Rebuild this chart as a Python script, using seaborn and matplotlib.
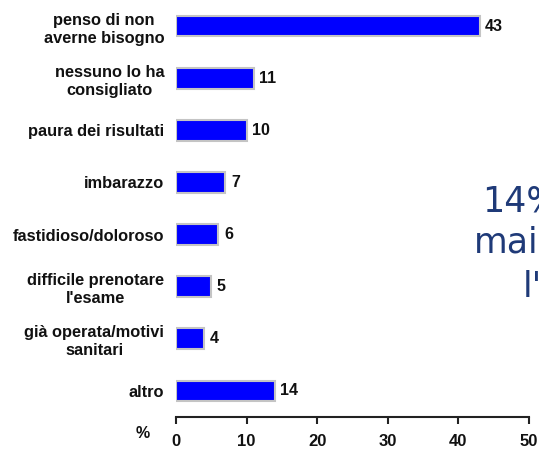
import pandas as pd
import seaborn as sns
import matplotlib.pyplot as plt

# ---------------------------------------------------------------------
# Data
# ---------------------------------------------------------------------
reasons = [
    "penso di non\naverne bisogno",
    "nessuno lo ha\nconsigliato",
    "paura dei risultati",
    "imbarazzo",
    "fastidioso/doloroso",
    "difficile prenotare\nl'esame",
    "già operata/motivi\nsanitari",
    "altro",
]
percent = [43, 11, 10, 7, 6, 5, 4, 14]
x_ticks = [0, 10, 20, 30, 40, 50]
note_lines = ["14%", "mai", "l'"]

df = pd.DataFrame({"reason": reasons, "percent": percent})

# ---------------------------------------------------------------------
# Plot
# ---------------------------------------------------------------------
sns.set_style("white")
plt.rcParams["font.family"] = ["Liberation Sans", "DejaVu Sans"]
plt.rcParams["text.color"] = "#111111"

fig = plt.figure(figsize=(5.39, 4.5), dpi=100)
ax = fig.add_axes([176 / 539, 1 - 417 / 450, 353 / 539, 417 / 450])

sns.barplot(
    data=df,
    x="percent",
    y="reason",
    orient="h",
    color="#0000FF",
    saturation=1,
    width=0.4,
    edgecolor="#C4C4C4",
    linewidth=1.5,
    ax=ax,
)

# Value labels next to bars
for container in ax.containers:
    ax.bar_label(container, fmt="%d", padding=4, fontsize=11.5,
                 fontweight="bold", color="#111111")

ax.set_xlim(0, 50)
ax.set_ylim(7.5, -0.5)
ax.set_xticks(x_ticks)
ax.set_xlabel("")
ax.set_ylabel("")

# Axis styling
for side in ["top", "right", "left"]:
    ax.spines[side].set_visible(False)
ax.spines["bottom"].set_color("#222222")
ax.spines["bottom"].set_linewidth(1.5)
ax.tick_params(axis="x", bottom=True, length=5, width=1.5, color="#222222",
               pad=7, labelcolor="#111111")
ax.tick_params(axis="y", left=False, pad=5, labelcolor="#111111")

for lbl in ax.get_xticklabels():
    lbl.set_fontweight("bold")
    lbl.set_fontsize(12)
for lbl in ax.get_yticklabels():
    lbl.set_fontweight("bold")
    lbl.set_fontsize(11.8)
    lbl.set_multialignment("center")
    lbl.set_linespacing(1.25)

fig.text(143 / 539, 1 - 434 / 450, "%", ha="center", va="center",
         fontsize=11.5, fontweight="bold")

# Side note (cut off at the right edge, as in the source slide)
note_color = "#1F3A78"
note_pos = [(482, 212), (474, 253), (523, 297)]
for line, (px, py) in zip(note_lines, note_pos):
    fig.text(px / 539, 1 - py / 450, line, fontsize=25, color=note_color,
             family="DejaVu Sans", va="baseline", ha="left")

fig.savefig("out.png", dpi=100)
